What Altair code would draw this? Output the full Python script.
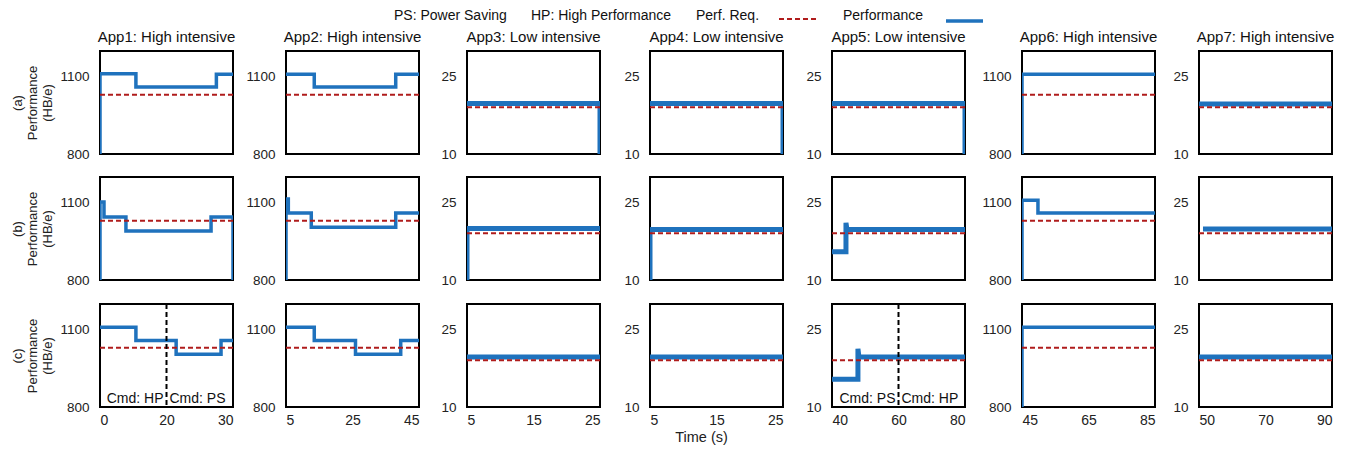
import altair as alt
import pandas as pd

BLUE = "#1f72bd"
RED = "#b01c1c"
FONT = "Liberation Sans"

# ---------------- data ----------------
app_titles = ["App1: High intensive", "App2: High intensive", "App3: Low intensive",
              "App4: Low intensive", "App5: Low intensive", "App6: High intensive",
              "App7: High intensive"]
is_high = [True, True, False, False, False, True, False]
x_domains = [[0, 40], [5, 45], [5, 25], [5, 25], [40, 80], [45, 85], [50, 90]]
x_ticks = [[0, 20, 40], [5, 25, 45], [5, 15, 25], [5, 15, 25], [40, 60, 80], [45, 65, 85], [50, 70, 90]]
x_tick_labels = [["0", "20", "30"], ["5", "25", "45"], ["5", "15", "25"], ["5", "15", "25"],
                 ["40", "60", "80"], ["45", "65", "85"], ["50", "70", "90"]]
y_domain_high = [800, 1200]
y_domain_low = [10, 30]
y_ticks_high = [800, 1100]
y_ticks_low = [10, 25]
perf_req = [1030, 1030, 19.1, 19.1, 19.1, 1030, 19.1]
row_labels = ["(a)", "(b)", "(c)"]

# row (a)
app1_a_t = [0, 0, 10.8, 10.8, 35, 35, 40]
app1_a_v = [800, 1112, 1112, 1060, 1060, 1110, 1110]
app2_a_t = [5, 13.5, 13.5, 38, 38, 45]
app2_a_v = [1110, 1110, 1060, 1060, 1110, 1110]
app3_a_t = [5, 25, 25]
app3_a_v = [19.8, 19.8, 10]
app4_a_t = [5, 25, 25]
app4_a_v = [19.8, 19.8, 10]
app5_a_t = [40, 80, 80]
app5_a_v = [19.8, 19.8, 10]
app6_a_t = [45, 45, 85]
app6_a_v = [800, 1110, 1110]
app7_a_t = [50, 90]
app7_a_v = [19.7, 19.7]

# row (b)
app1_b_t = [0, 0, 1.2, 1.2, 7.8, 7.8, 33.4, 33.4, 40, 40]
app1_b_v = [800, 1103, 1103, 1045, 1045, 990, 990, 1045, 1045, 800]
app2_b_t = [5, 5, 5.7, 5.7, 12.6, 12.6, 38, 38, 45]
app2_b_v = [800, 1115, 1115, 1060, 1060, 1005, 1005, 1060, 1060]
app3_b_t = [5, 5, 25]
app3_b_v = [10, 20, 20]
app4_b_t = [5, 5, 25]
app4_b_v = [10, 19.8, 19.8]
app5_b_t = [40, 44.2, 44.2, 44.5, 80]
app5_b_v = [15.5, 15.5, 21.1, 19.8, 19.8]
app6_b_t = [45, 45, 49.8, 49.8, 85]
app6_b_v = [800, 1110, 1110, 1060, 1060]
app7_b_t = [51.2, 90]
app7_b_v = [19.9, 19.9]

# row (c)
app1_c_t = [0, 10.8, 10.8, 22.9, 22.9, 36.4, 36.4, 40]
app1_c_v = [1110, 1110, 1058, 1058, 1005, 1005, 1058, 1058]
app2_c_t = [5, 13.5, 13.5, 25.9, 25.9, 39.5, 39.5, 45]
app2_c_v = [1110, 1110, 1058, 1058, 1005, 1005, 1058, 1058]
app3_c_t = [5, 25]
app3_c_v = [19.7, 19.7]
app4_c_t = [5, 25]
app4_c_v = [19.7, 19.7]
app5_c_t = [40, 47.8, 47.8, 48.1, 80]
app5_c_v = [15.4, 15.4, 21.3, 19.7, 19.7]
app6_c_t = [45, 45, 85]
app6_c_v = [800, 1110, 1110]
app7_c_t = [50, 90]
app7_c_v = [19.7, 19.7]

series = [
    [(app1_a_t, app1_a_v), (app2_a_t, app2_a_v), (app3_a_t, app3_a_v), (app4_a_t, app4_a_v),
     (app5_a_t, app5_a_v), (app6_a_t, app6_a_v), (app7_a_t, app7_a_v)],
    [(app1_b_t, app1_b_v), (app2_b_t, app2_b_v), (app3_b_t, app3_b_v), (app4_b_t, app4_b_v),
     (app5_b_t, app5_b_v), (app6_b_t, app6_b_v), (app7_b_t, app7_b_v)],
    [(app1_c_t, app1_c_v), (app2_c_t, app2_c_v), (app3_c_t, app3_c_v), (app4_c_t, app4_c_v),
     (app5_c_t, app5_c_v), (app6_c_t, app6_c_v), (app7_c_t, app7_c_v)],
]

# command switches in row (c): column, time, left text, right text
cmd_cols = [0, 4]
cmd_times = [20, 60]
cmd_left = ["Cmd: HP", "Cmd: PS"]
cmd_right = ["Cmd: PS", "Cmd: HP"]

# ---------------- layout ----------------
PW, PH = 133, 103
axis_extent = [41, 43.5, 38.5, 42.5, 41.5, 49.5, 34.5]


def label_expr(ticks, labels):
    expr = "''"
    for tv, lb in zip(ticks, labels):
        expr = f"datum.value == {tv} ? '{lb}' : ({expr})"
    return expr


def panel(r, c):
    t, v = series[r][c]
    high = is_high[c]
    ydom = y_domain_high if high else y_domain_low
    yt = y_ticks_high if high else y_ticks_low
    df = pd.DataFrame({"t": t, "v": v, "i": list(range(len(t)))})

    if r == 2:
        xaxis = alt.Axis(values=x_ticks[c], labelExpr=label_expr(x_ticks[c], x_tick_labels[c]),
                         ticks=False, domain=False, grid=False, labelPadding=6,
                         labelFontSize=14, labelColor="#222", labelFont=FONT,
                         title="Time (s)" if c == 3 else None,
                         titleFontSize=14.5, titleFontWeight="normal", titleColor="#222",
                         titlePadding=3, titleX=51)
    else:
        xaxis = None
    yaxis = alt.Axis(values=yt, format="d", ticks=False, domain=False, grid=False, labelPadding=11,
                     labelFontSize=13.5, labelColor="#222",
                     minExtent=axis_extent[c], maxExtent=axis_extent[c],
                     title=[row_labels[r], "Performance", "(HB/e)"] if c == 0 else None,
                     titleFontSize=13, titleFontWeight="normal", titleColor="#222",
                     titleLineHeight=15, titlePadding=5)
    x = alt.X("t:Q", scale=alt.Scale(domain=x_domains[c], nice=False, zero=False), axis=xaxis)
    y = alt.Y("v:Q", scale=alt.Scale(domain=ydom, nice=False, zero=False), axis=yaxis)

    line = alt.Chart(df).mark_line(color=BLUE, strokeWidth=3.5 if high else 5, clip=True).encode(
        x=x, y=y, order="i:Q")
    req = alt.Chart(pd.DataFrame({"v": [perf_req[c]]})).mark_rule(
        color=RED, strokeDash=[5, 3], strokeWidth=2).encode(y=alt.Y("v:Q"))
    layers = [line, req]

    if r == 2 and c in cmd_cols:
        k = cmd_cols.index(c)
        cdf = pd.DataFrame({"t": [cmd_times[k]], "v": [ydom[0]],
                            "l": [cmd_left[k]], "rt": [cmd_right[k]]})
        vline = alt.Chart(cdf).mark_rule(color="black", strokeDash=[5, 3], strokeWidth=2).encode(x=x)
        tl = alt.Chart(cdf).mark_text(align="right", baseline="bottom", dx=-3, dy=-1,
                                      fontSize=14, color="#111").encode(x=x, y=y, text="l:N")
        tr = alt.Chart(cdf).mark_text(align="left", baseline="bottom", dx=3, dy=-1,
                                      fontSize=14, color="#111").encode(x=x, y=y, text="rt:N")
        layers += [vline, tl, tr]

    ch = alt.layer(*layers).properties(width=PW, height=PH)
    if r == 0:
        ch = ch.properties(title=alt.TitleParams(app_titles[c], fontSize=15, fontWeight="normal",
                                                 color="#111", offset=6, anchor="middle"))
    return ch


panels = [panel(r, c) for r in range(3) for c in range(7)]
grid = alt.concat(*panels, columns=7, spacing={"row": 14, "column": 4}, align="each")

# ---------------- legend row ----------------
one = pd.DataFrame({"a": [0]})
leg_texts = ["PS: Power Saving", "HP: High Performance", "Perf. Req.", "Performance"]
leg_x = [294, 431, 596, 743]
leg_layers = []
for txt, lx in zip(leg_texts, leg_x):
    leg_layers.append(alt.Chart(one).mark_text(align="left", baseline="middle", fontSize=14,
                                               color="#111").encode(
        x=alt.value(lx), y=alt.value(6), text=alt.value(txt)))
leg_layers.append(alt.Chart(one).mark_rule(color=RED, strokeDash=[5, 3], strokeWidth=2).encode(
    x=alt.value(679), x2=alt.value(716), y=alt.value(9)))
leg_layers.append(alt.Chart(one).mark_rule(color=BLUE, strokeWidth=3.5).encode(
    x=alt.value(846), x2=alt.value(883), y=alt.value(11)))
legend = alt.layer(*leg_layers).properties(width=1000, height=14,
                                           view=alt.ViewConfig(stroke="transparent"))

chart = alt.vconcat(legend, grid, spacing=4).properties(
    padding={"left": 2, "top": 0, "right": 2, "bottom": 0}
).configure(font=FONT).configure_view(stroke="black", strokeWidth=2)

chart.save("out.html", embed_options={"renderer": "svg", "actions": False})
